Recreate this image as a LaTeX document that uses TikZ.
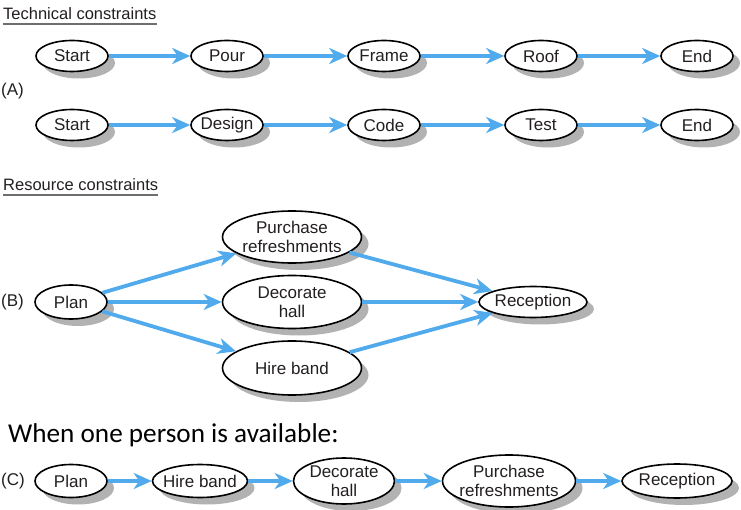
\documentclass[tikz,border=0pt]{standalone}
\usepackage{fontspec}
\setmainfont{Liberation Sans}
\newfontfamily\calibfont{Carlito}
\usetikzlibrary{shapes.geometric,arrows.meta}
\definecolor{arrblue}{RGB}{80,170,235}
\definecolor{txt}{RGB}{35,31,32}
\definecolor{ulgray}{RGB}{110,110,110}
\begin{document}
\begin{tikzpicture}[x=1pt,y=-1pt,
  shad/.style={ellipse, fill=gray!60, draw=none, inner sep=0pt},
  ev/.style={ellipse, draw=black, line width=1.6pt, fill=white, inner xsep=-6pt, inner ysep=-8pt,
    text=txt, align=center, font=\fontsize{17}{19.5}\selectfont},
  lbl/.style={inner sep=0pt, text=txt, align=center, font=\fontsize{17}{19.5}\selectfont},
  hdr/.style={inner sep=0pt, text=txt, anchor=base west, font=\fontsize{16.5}{19}\selectfont},
  flow/.style={draw=arrblue, line width=3.8pt, -{Stealth[length=18pt,width=16pt,inset=5.5pt]}},
  uline/.style={draw=ulgray, line width=1.3pt},
  sa/.style={minimum width=72pt, minimum height=31pt}
]
\useasboundingbox (0,0) rectangle (741,510);

% headers
\node[hdr] (tc) at (3,20) {Technical constraints};
\draw[uline] ([yshift=-4pt]tc.base west) -- ([yshift=-4pt]tc.base east);
\node[hdr] (rc) at (3,191) {Resource constraints};
\draw[uline] ([yshift=-4pt]rc.base west) -- ([yshift=-4pt]rc.base east);
\node[inner sep=0pt, anchor=base west, text=black, font=\calibfont\fontsize{27.2}{30}\selectfont] (wo) at (8,442) {When one person is available:};

\node[lbl, anchor=west] (la) at (1,91) {(A)};
\node[lbl, anchor=west] (lb) at (1,302) {(B)};
\node[lbl, anchor=west] (lc) at (1,481) {(C)};

% row A1 shadows
\node[shad, sa] (s1s) at (79,63) {};
\node[shad, sa] (pos) at (234,63) {};
\node[shad, sa] (frs) at (391,63) {};
\node[shad, sa] (ros) at (548,63) {};
\node[shad, sa] (e1s) at (704,63) {};
% row A2 shadows
\node[shad, sa] (s2s) at (79,132) {};
\node[shad, sa] (des) at (234,132) {};
\node[shad, sa] (cos) at (391,132) {};
\node[shad, sa] (tes) at (548,132) {};
\node[shad, sa] (e2s) at (704,132) {};
% B shadows
\node[shad, minimum width=72pt, minimum height=34pt] (pbs) at (78,309) {};
\node[shad, minimum width=139pt, minimum height=52pt] (prbs) at (299,244) {};
\node[shad, minimum width=139pt, minimum height=53pt] (dhbs) at (299,309) {};
\node[shad, minimum width=139pt, minimum height=54pt] (hbbs) at (299,375) {};
\node[shad, minimum width=108pt, minimum height=31pt] (rbs) at (540,309) {};
% C shadows
\node[shad, minimum width=72pt, minimum height=33pt] (pcs) at (78,488) {};
\node[shad, minimum width=95pt, minimum height=33pt] (hbcs) at (207,488) {};
\node[shad, minimum width=101pt, minimum height=46pt] (dhcs) at (351,488) {};
\node[shad, minimum width=133pt, minimum height=52pt] (prcs) at (516,488) {};
\node[shad, minimum width=110pt, minimum height=34pt] (rc2s) at (684,488) {};

% row A1
\node[ev, sa] (s1) at (72,56) {Start};
\node[ev, sa] (po) at (227,56) {Pour};
\node[ev, sa] (fr) at (384,56) {Frame};
\node[ev, sa] (ro) at (541,56) {Roof};
\node[ev, sa] (e1) at (697,56) {End};
\draw[flow] (s1) -- (po);
\draw[flow] (po) -- (fr);
\draw[flow] (fr) -- (ro);
\draw[flow] (ro) -- (e1);

% row A2
\node[ev, sa] (s2) at (72,125) {Start};
\node[ev, sa] (de) at (227,125) {Design};
\node[ev, sa] (co) at (384,125) {Code};
\node[ev, sa] (te) at (541,125) {Test};
\node[ev, sa] (e2) at (697,125) {End};
\draw[flow] (s2) -- (de);
\draw[flow] (de) -- (co);
\draw[flow] (co) -- (te);
\draw[flow] (te) -- (e2);

% B
\node[ev, minimum width=72pt, minimum height=34pt] (pb) at (71,302) {Plan};
\node[ev, minimum width=139pt, minimum height=52pt] (prb) at (292,237) {Purchase\\refreshments};
\node[ev, minimum width=139pt, minimum height=53pt] (dhb) at (292,302) {Decorate\\hall};
\node[ev, minimum width=139pt, minimum height=54pt] (hbb) at (292,368) {Hire band};
\node[ev, minimum width=108pt, minimum height=31pt] (rb) at (533,302) {Reception};
\draw[flow] (pb) -- (prb);
\draw[flow] (pb) -- (dhb);
\draw[flow] (pb) -- (hbb);
\draw[flow] (prb) -- (rb);
\draw[flow] (dhb) -- (rb);
\draw[flow] (hbb) -- (rb);

% C
\node[ev, minimum width=72pt, minimum height=33pt] (pc) at (71,481) {Plan};
\node[ev, minimum width=95pt, minimum height=33pt] (hbc) at (200,481) {Hire band};
\node[ev, minimum width=101pt, minimum height=46pt] (dhc) at (344,481) {Decorate\\hall};
\node[ev, minimum width=133pt, minimum height=52pt] (prc) at (509,481) {Purchase\\refreshments};
\node[ev, minimum width=110pt, minimum height=34pt] (rc2) at (677,481) {Reception};
\draw[flow] (pc) -- (hbc);
\draw[flow] (hbc) -- (dhc);
\draw[flow] (dhc) -- (prc);
\draw[flow] (prc) -- (rc2);
\end{tikzpicture}
\end{document}
